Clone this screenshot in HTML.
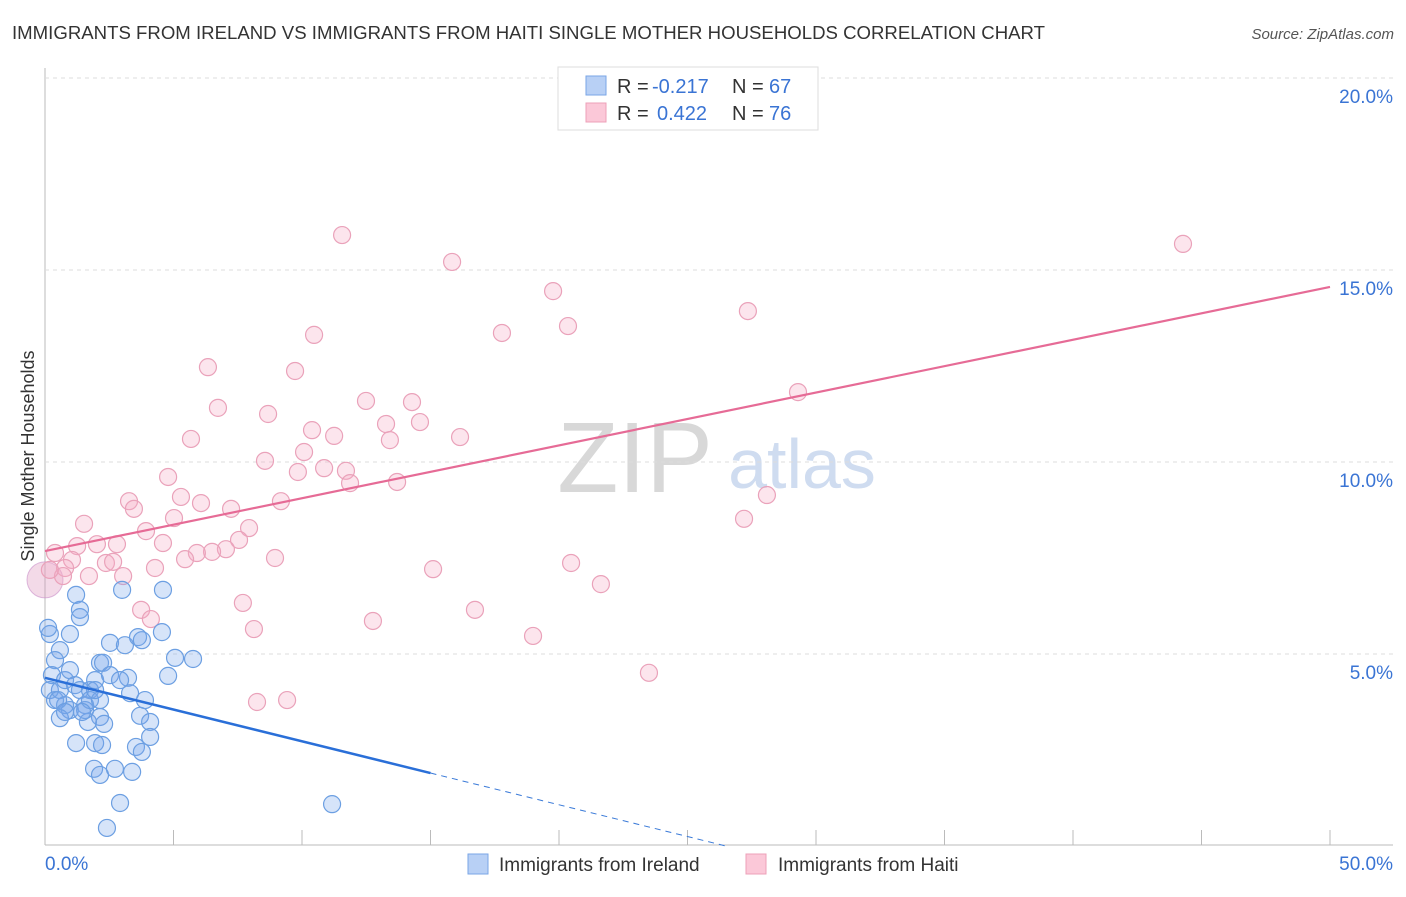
<!DOCTYPE html>
<html><head><meta charset="utf-8"><style>
body{margin:0;background:#fff;font-family:"Liberation Sans",sans-serif;}
svg text{font-family:"Liberation Sans",sans-serif;}
</style></head><body>
<svg id="c" width="1406" height="892">
<text x="12" y="39" font-size="18.6" fill="#333" textLength="1033">IMMIGRANTS FROM IRELAND VS IMMIGRANTS FROM HAITI SINGLE MOTHER HOUSEHOLDS CORRELATION CHART</text>
<text x="1394" y="39" font-size="15" fill="#555" text-anchor="end" font-style="italic">Source: ZipAtlas.com</text>
<text x="635" y="492" font-size="100" fill="#d8d8d8" text-anchor="middle" font-family="Liberation Serif">ZIP</text>
<text x="802" y="488" font-size="70" fill="#cfdcf0" text-anchor="middle">atlas</text>
<text transform="translate(34,456) rotate(-90)" font-size="18" fill="#333" text-anchor="middle">Single Mother Households</text>
<g id="grid"></g><g id="pts"></g><g id="lines"></g>
<g>
<rect x="558" y="67" width="260" height="63" fill="#fff" stroke="#ddd"/>
<rect x="586" y="76" width="20" height="19" fill="#b8d0f5" stroke="#7aa6e6"/>
<rect x="586" y="103" width="20" height="19" fill="#fbc8d8" stroke="#eea0b8"/>
<text x="617" y="93" font-size="20" fill="#333">R =</text>
<text x="652" y="93" font-size="20" fill="#3a74d4">-0.217</text>
<text x="732" y="93" font-size="20" fill="#333">N =</text>
<text x="769" y="93" font-size="20" fill="#3a74d4">67</text>
<text x="617" y="120" font-size="20" fill="#333">R =</text>
<text x="657" y="120" font-size="20" fill="#3a74d4">0.422</text>
<text x="732" y="120" font-size="20" fill="#333">N =</text>
<text x="769" y="120" font-size="20" fill="#3a74d4">76</text>
</g>
<g>
<rect x="468" y="854" width="20" height="20" fill="#b8d0f5" stroke="#7aa6e6"/>
<text x="499" y="871" font-size="19" fill="#333">Immigrants from Ireland</text>
<rect x="746" y="854" width="20" height="20" fill="#fbc8d8" stroke="#eea0b8"/>
<text x="778" y="871" font-size="19" fill="#333">Immigrants from Haiti</text>
</g>
</svg>
<script>
const yTicks=[5,10,15,20];
const yTickLabels=["5.0%","10.0%","15.0%","20.0%"];
const xTickLabels=["0.0%","50.0%"];
const blueX=[0.19,0.12,0.58,0.39,0.27,0.19,0.39,0.58,0.78,0.97,0.97,1.21,1.36,1.36,1.17,1.36,1.56,0.97,0.78,0.58,1.75,1.95,2.14,2.26,2.53,3.11,3.62,3.77,3.00,4.59,4.55,5.06,5.76,4.79,3.23,2.53,3.31,3.89,3.70,4.09,4.09,3.54,3.77,2.14,1.67,2.30,1.21,1.95,2.22,1.91,2.14,2.72,3.39,2.92,2.41,11.17,1.56,1.75,0.51,0.78,2.14,2.92,1.95,1.44];
const blueY=[5.52,5.68,5.10,4.84,4.45,4.06,3.80,4.06,4.32,4.58,5.52,6.54,6.15,5.96,4.19,4.06,3.67,3.54,3.67,3.33,4.06,4.32,4.77,4.77,5.29,5.23,5.44,5.36,6.67,6.67,5.57,4.90,4.87,4.43,4.38,4.45,3.98,3.80,3.39,3.23,2.84,2.58,2.45,3.36,3.23,3.18,2.68,2.68,2.63,2.01,1.85,2.01,1.93,1.12,0.47,1.09,3.54,3.80,3.80,3.49,3.80,4.32,4.06,3.49];
const pinkX=[11.56,15.84,44.28,19.77,10.47,17.78,20.35,27.35,6.34,9.73,29.30,12.49,6.73,14.28,8.68,14.59,13.27,10.39,11.25,16.15,5.68,13.42,10.08,8.56,9.84,10.86,11.71,11.87,13.70,4.79,5.29,3.27,3.46,6.07,9.18,7.24,5.02,28.09,27.20,3.93,1.52,7.94,7.55,4.59,2.02,2.80,1.25,7.04,6.50,5.91,0.39,5.45,8.95,1.05,2.37,2.65,0.78,4.28,1.71,3.04,0.70,15.10,20.47,21.63,7.70,3.74,16.73,4.12,12.76,8.13,18.99,23.50,8.25,9.42,0.19];
const pinkY=[15.91,15.21,15.68,14.45,13.31,13.36,13.54,13.93,12.47,12.37,11.82,11.59,11.41,11.56,11.25,11.04,10.99,10.83,10.68,10.65,10.60,10.57,10.26,10.03,9.74,9.84,9.77,9.45,9.48,9.61,9.09,8.98,8.78,8.93,8.98,8.78,8.54,9.14,8.52,8.20,8.39,8.28,7.97,7.89,7.86,7.86,7.81,7.73,7.66,7.63,7.63,7.47,7.50,7.45,7.37,7.40,7.24,7.24,7.03,7.03,7.03,7.21,7.37,6.82,6.33,6.15,6.15,5.91,5.86,5.65,5.47,4.51,3.75,3.80,7.19];
const blueTrend=[4.38,1.90];const blueTrendX=[0,15];
const pinkTrend=[7.68,14.56];const pinkTrendX=[0,50];
const X=v=>45+v*25.7, Y=v=>846-v*38.4;
const NS="http://www.w3.org/2000/svg";
function mk(p,t,a){const e=document.createElementNS(NS,t);for(const k in a)e.setAttribute(k,a[k]);p.appendChild(e);return e;}
const grid=document.getElementById('grid');
let ax=mk(grid,'line',{x1:45,y1:68,x2:45,y2:845,stroke:'#bbb'});


let bx=mk(grid,'line',{x1:45,y1:845,x2:1393,y2:845,stroke:'#bbb'});


yTicks.forEach((t,i)=>{
 const g=mk(grid,'line',{x1:45,y1:Y(t),x2:1393,y2:Y(t),stroke:'#ddd','stroke-dasharray':'4,4'});
 
 
 const tx=mk(grid,'text',{x:1393,y:Y(t)+25,'font-size':19,fill:'#3a74d4','text-anchor':'end'});
 tx.textContent=yTickLabels[i];
 
 
});
for(let i=0;i<=10;i++){const l=mk(grid,'line',{x1:X(i*5),y1:830,x2:X(i*5),y2:845,stroke:'#bbb'});
 
 }
[[0,'start'],[50,'end']].forEach((d,i)=>{const t=mk(grid,'text',{x:i?1393:45,y:870,'font-size':19,fill:'#3a74d4','text-anchor':d[1]});t.textContent=xTickLabels[i];
 
 });
const pts=document.getElementById('pts');
const big=mk(pts,'circle',{cx:X(0),cy:Y(6.93),r:18,fill:'rgba(220,150,190,0.35)',stroke:'rgba(200,140,200,0.6)'});


pinkX.forEach((x,i)=>{const c=mk(pts,'circle',{cx:X(x),cy:Y(pinkY[i]),r:8.5,fill:'rgba(246,170,195,0.3)',stroke:'#eaa2ba','stroke-width':1.2});
 
 });
blueX.forEach((x,i)=>{const c=mk(pts,'circle',{cx:X(x),cy:Y(blueY[i]),r:8.5,fill:'rgba(120,165,235,0.3)',stroke:'#6c9fe2','stroke-width':1.2});
 
 });
const L=document.getElementById('lines');
const slope=(blueTrend[1]-blueTrend[0])/(blueTrendX[1]-blueTrendX[0]);
const xEnd=-blueTrend[0]/slope;
let d=mk(L,'line',{x1:X(blueTrendX[1]),y1:Y(blueTrend[1]),x2:X(xEnd),y2:Y(0),stroke:'#3a7ad8','stroke-width':1,'stroke-dasharray':'6,5'});


let b=mk(L,'line',{x1:X(blueTrendX[0]),y1:Y(blueTrend[0]),x2:X(blueTrendX[1]),y2:Y(blueTrend[1]),stroke:'#2a6fd8','stroke-width':2.5});


let p=mk(L,'line',{x1:X(pinkTrendX[0]),y1:Y(pinkTrend[0]),x2:X(pinkTrendX[1]),y2:Y(pinkTrend[1]),stroke:'#e66b96','stroke-width':2.2});


</script>
</body></html>
